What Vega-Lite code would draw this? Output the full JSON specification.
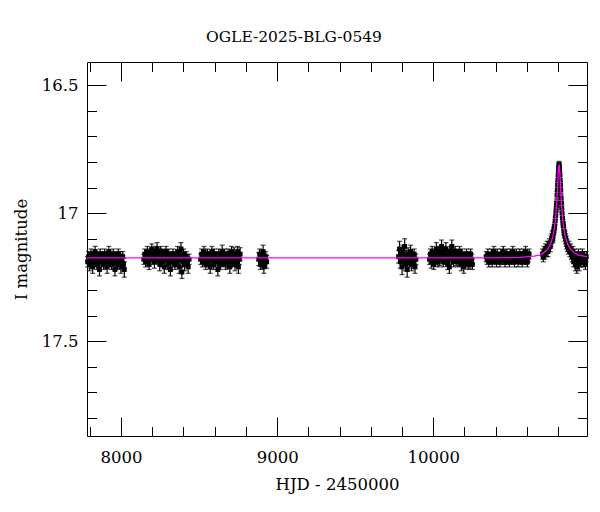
{
  "$schema": "https://vega.github.io/schema/vega-lite/v6.json",
  "width": 500,
  "height": 374,
  "autosize": {"type": "none"},
  "padding": {"left": 87, "top": 62, "right": 13, "bottom": 76},
  "background": "white",
  "config": {
    "view": {"stroke": "black", "strokeWidth": 1},
    "font": "DejaVu Serif",
    "axis": {
      "grid": false,
      "domain": false,
      "labelFont": "DejaVu Serif",
      "titleFont": "DejaVu Serif",
      "labelColor": "black",
      "titleColor": "black",
      "titleFontWeight": "normal",
      "labelFontSize": 16.5,
      "titleFontSize": 16.5,
      "tickColor": "black",
      "tickWidth": 1
    }
  },
  "title": {
    "text": "OGLE-2025-BLG-0549",
    "font": "DejaVu Serif",
    "fontSize": 15.5,
    "fontWeight": "normal",
    "color": "black",
    "anchor": "middle",
    "dx": -43,
    "offset": 4,
    "baseline": "alphabetic"
  },
  "datasets": {
    "obs": [
      {"t":7786,"m":17.19,"e":0.02},{"t":7792,"m":17.17,"e":0.02},{"t":7797,"m":17.20,"e":0.025},{"t":7803,"m":17.18,"e":0.02},
      {"t":7808,"m":17.16,"e":0.02},{"t":7812,"m":17.19,"e":0.02},{"t":7818,"m":17.21,"e":0.025},{"t":7823,"m":17.17,"e":0.02},
      {"t":7829,"m":17.18,"e":0.02},{"t":7834,"m":17.15,"e":0.02},{"t":7840,"m":17.19,"e":0.02},{"t":7845,"m":17.20,"e":0.02},
      {"t":7851,"m":17.17,"e":0.02},{"t":7856,"m":17.18,"e":0.025},{"t":7862,"m":17.22,"e":0.025},{"t":7867,"m":17.16,"e":0.02},
      {"t":7873,"m":17.19,"e":0.02},{"t":7878,"m":17.17,"e":0.02},{"t":7884,"m":17.18,"e":0.02},{"t":7889,"m":17.20,"e":0.02},
      {"t":7895,"m":17.16,"e":0.02},{"t":7900,"m":17.19,"e":0.025},{"t":7906,"m":17.17,"e":0.02},{"t":7911,"m":17.21,"e":0.025},
      {"t":7917,"m":17.18,"e":0.02},{"t":7922,"m":17.15,"e":0.02},{"t":7928,"m":17.19,"e":0.02},{"t":7933,"m":17.17,"e":0.02},
      {"t":7939,"m":17.20,"e":0.02},{"t":7944,"m":17.18,"e":0.02},{"t":7950,"m":17.16,"e":0.02},{"t":7955,"m":17.19,"e":0.025},
      {"t":7961,"m":17.22,"e":0.025},{"t":7966,"m":17.17,"e":0.02},{"t":7972,"m":17.18,"e":0.02},{"t":7977,"m":17.20,"e":0.02},
      {"t":7983,"m":17.16,"e":0.02},{"t":7988,"m":17.19,"e":0.02},{"t":7994,"m":17.17,"e":0.02},{"t":7999,"m":17.21,"e":0.025},
      {"t":8005,"m":17.18,"e":0.02},{"t":8011,"m":17.17,"e":0.02},{"t":8016,"m":17.20,"e":0.025},{"t":8021,"m":17.22,"e":0.03},
      {"t":8146,"m":17.18,"e":0.02},{"t":8152,"m":17.16,"e":0.02},{"t":8158,"m":17.19,"e":0.02},{"t":8163,"m":17.17,"e":0.02},
      {"t":8169,"m":17.15,"e":0.02},{"t":8175,"m":17.18,"e":0.025},{"t":8180,"m":17.20,"e":0.02},{"t":8186,"m":17.16,"e":0.02},
      {"t":8192,"m":17.17,"e":0.02},{"t":8197,"m":17.14,"e":0.02},{"t":8203,"m":17.18,"e":0.02},{"t":8209,"m":17.16,"e":0.02},
      {"t":8214,"m":17.19,"e":0.025},{"t":8220,"m":17.15,"e":0.02},{"t":8226,"m":17.17,"e":0.02},{"t":8231,"m":17.14,"e":0.025},
      {"t":8237,"m":17.18,"e":0.02},{"t":8243,"m":17.16,"e":0.02},{"t":8248,"m":17.20,"e":0.025},{"t":8254,"m":17.15,"e":0.02},
      {"t":8260,"m":17.17,"e":0.02},{"t":8265,"m":17.19,"e":0.02},{"t":8271,"m":17.16,"e":0.02},{"t":8277,"m":17.21,"e":0.025},
      {"t":8282,"m":17.17,"e":0.02},{"t":8288,"m":17.15,"e":0.02},{"t":8294,"m":17.18,"e":0.02},{"t":8299,"m":17.20,"e":0.02},
      {"t":8305,"m":17.16,"e":0.02},{"t":8311,"m":17.18,"e":0.02},{"t":8316,"m":17.22,"e":0.025},{"t":8322,"m":17.17,"e":0.02},
      {"t":8328,"m":17.19,"e":0.02},{"t":8333,"m":17.16,"e":0.02},{"t":8339,"m":17.18,"e":0.025},{"t":8345,"m":17.20,"e":0.02},
      {"t":8350,"m":17.17,"e":0.02},{"t":8356,"m":17.19,"e":0.02},{"t":8362,"m":17.15,"e":0.02},{"t":8367,"m":17.18,"e":0.02},
      {"t":8373,"m":17.21,"e":0.025},{"t":8379,"m":17.17,"e":0.02},{"t":8384,"m":17.14,"e":0.025},{"t":8390,"m":17.23,"e":0.025},
      {"t":8395,"m":17.19,"e":0.02},{"t":8401,"m":17.16,"e":0.02},{"t":8407,"m":17.20,"e":0.025},{"t":8412,"m":17.18,"e":0.02},
      {"t":8418,"m":17.17,"e":0.02},{"t":8424,"m":17.19,"e":0.02},{"t":8430,"m":17.21,"e":0.025},{"t":8436,"m":17.18,"e":0.02},
      {"t":8510,"m":17.18,"e":0.02},{"t":8516,"m":17.16,"e":0.02},{"t":8521,"m":17.19,"e":0.02},{"t":8527,"m":17.17,"e":0.025},
      {"t":8532,"m":17.15,"e":0.02},{"t":8538,"m":17.18,"e":0.02},{"t":8543,"m":17.20,"e":0.02},{"t":8549,"m":17.17,"e":0.02},
      {"t":8554,"m":17.16,"e":0.02},{"t":8560,"m":17.19,"e":0.02},{"t":8565,"m":17.18,"e":0.025},{"t":8571,"m":17.21,"e":0.025},
      {"t":8576,"m":17.17,"e":0.02},{"t":8582,"m":17.15,"e":0.02},{"t":8587,"m":17.18,"e":0.02},{"t":8593,"m":17.20,"e":0.02},
      {"t":8598,"m":17.16,"e":0.02},{"t":8604,"m":17.19,"e":0.02},{"t":8609,"m":17.17,"e":0.02},{"t":8615,"m":17.18,"e":0.025},
      {"t":8620,"m":17.22,"e":0.025},{"t":8626,"m":17.16,"e":0.02},{"t":8631,"m":17.18,"e":0.02},{"t":8637,"m":17.20,"e":0.02},
      {"t":8642,"m":17.17,"e":0.02},{"t":8648,"m":17.15,"e":0.025},{"t":8653,"m":17.19,"e":0.02},{"t":8659,"m":17.18,"e":0.02},
      {"t":8664,"m":17.16,"e":0.02},{"t":8670,"m":17.20,"e":0.02},{"t":8675,"m":17.17,"e":0.02},{"t":8681,"m":17.19,"e":0.025},
      {"t":8686,"m":17.16,"e":0.02},{"t":8692,"m":17.18,"e":0.02},{"t":8697,"m":17.21,"e":0.025},{"t":8703,"m":17.17,"e":0.02},
      {"t":8708,"m":17.15,"e":0.02},{"t":8714,"m":17.19,"e":0.02},{"t":8719,"m":17.18,"e":0.02},{"t":8725,"m":17.16,"e":0.025},
      {"t":8730,"m":17.20,"e":0.025},{"t":8736,"m":17.17,"e":0.02},{"t":8741,"m":17.19,"e":0.02},{"t":8747,"m":17.15,"e":0.02},
      {"t":8752,"m":17.21,"e":0.025},{"t":8758,"m":17.18,"e":0.02},{"t":8763,"m":17.16,"e":0.025},
      {"t":8882,"m":17.18,"e":0.025},{"t":8888,"m":17.16,"e":0.02},{"t":8893,"m":17.20,"e":0.02},{"t":8899,"m":17.17,"e":0.025},
      {"t":8904,"m":17.19,"e":0.02},{"t":8910,"m":17.15,"e":0.025},{"t":8915,"m":17.21,"e":0.025},{"t":8921,"m":17.18,"e":0.02},
      {"t":8927,"m":17.17,"e":0.02},{"t":8933,"m":17.19,"e":0.025},
      {"t":9778,"m":17.17,"e":0.025},{"t":9784,"m":17.14,"e":0.03},{"t":9789,"m":17.19,"e":0.025},{"t":9795,"m":17.16,"e":0.025},
      {"t":9800,"m":17.21,"e":0.03},{"t":9806,"m":17.15,"e":0.025},{"t":9811,"m":17.18,"e":0.025},{"t":9817,"m":17.13,"e":0.03},
      {"t":9822,"m":17.20,"e":0.025},{"t":9828,"m":17.17,"e":0.025},{"t":9833,"m":17.22,"e":0.03},{"t":9839,"m":17.16,"e":0.025},
      {"t":9844,"m":17.19,"e":0.025},{"t":9850,"m":17.18,"e":0.02},{"t":9855,"m":17.15,"e":0.025},{"t":9861,"m":17.20,"e":0.025},
      {"t":9866,"m":17.17,"e":0.02},{"t":9872,"m":17.19,"e":0.025},{"t":9878,"m":17.16,"e":0.02},{"t":9883,"m":17.21,"e":0.025},
      {"t":9889,"m":17.18,"e":0.02},
      {"t":9976,"m":17.18,"e":0.02},{"t":9982,"m":17.16,"e":0.02},{"t":9987,"m":17.19,"e":0.025},{"t":9993,"m":17.15,"e":0.02},
      {"t":9998,"m":17.17,"e":0.02},{"t":10004,"m":17.20,"e":0.02},{"t":10009,"m":17.16,"e":0.02},{"t":10015,"m":17.18,"e":0.02},
      {"t":10020,"m":17.14,"e":0.025},{"t":10026,"m":17.17,"e":0.02},{"t":10031,"m":17.19,"e":0.02},{"t":10037,"m":17.15,"e":0.02},
      {"t":10042,"m":17.18,"e":0.025},{"t":10048,"m":17.16,"e":0.02},{"t":10053,"m":17.13,"e":0.025},{"t":10059,"m":17.17,"e":0.02},
      {"t":10064,"m":17.19,"e":0.02},{"t":10070,"m":17.15,"e":0.02},{"t":10075,"m":17.18,"e":0.02},{"t":10081,"m":17.14,"e":0.025},
      {"t":10086,"m":17.16,"e":0.02},{"t":10092,"m":17.20,"e":0.02},{"t":10097,"m":17.17,"e":0.02},{"t":10103,"m":17.21,"e":0.025},
      {"t":10108,"m":17.15,"e":0.02},{"t":10114,"m":17.18,"e":0.02},{"t":10119,"m":17.13,"e":0.025},{"t":10125,"m":17.16,"e":0.02},
      {"t":10130,"m":17.19,"e":0.02},{"t":10136,"m":17.17,"e":0.02},{"t":10141,"m":17.15,"e":0.02},{"t":10147,"m":17.18,"e":0.025},
      {"t":10152,"m":17.16,"e":0.02},{"t":10158,"m":17.19,"e":0.02},{"t":10163,"m":17.17,"e":0.02},{"t":10169,"m":17.15,"e":0.02},
      {"t":10174,"m":17.18,"e":0.02},{"t":10180,"m":17.20,"e":0.025},{"t":10185,"m":17.16,"e":0.02},{"t":10191,"m":17.18,"e":0.02},
      {"t":10196,"m":17.21,"e":0.025},{"t":10202,"m":17.17,"e":0.02},{"t":10207,"m":17.19,"e":0.02},{"t":10213,"m":17.16,"e":0.02},
      {"t":10218,"m":17.18,"e":0.025},{"t":10224,"m":17.20,"e":0.02},{"t":10229,"m":17.17,"e":0.02},{"t":10235,"m":17.19,"e":0.025},
      {"t":10240,"m":17.16,"e":0.02},{"t":10246,"m":17.18,"e":0.02},{"t":10251,"m":17.20,"e":0.02},
      {"t":10339,"m":17.17,"e":0.02},{"t":10345,"m":17.18,"e":0.02},{"t":10350,"m":17.16,"e":0.02},{"t":10356,"m":17.19,"e":0.02},
      {"t":10361,"m":17.17,"e":0.015},{"t":10367,"m":17.18,"e":0.02},{"t":10372,"m":17.16,"e":0.02},{"t":10378,"m":17.19,"e":0.02},
      {"t":10383,"m":17.17,"e":0.02},{"t":10389,"m":17.15,"e":0.02},{"t":10394,"m":17.18,"e":0.02},{"t":10400,"m":17.17,"e":0.02},
      {"t":10405,"m":17.19,"e":0.02},{"t":10411,"m":17.16,"e":0.02},{"t":10416,"m":17.18,"e":0.02},{"t":10422,"m":17.17,"e":0.015},
      {"t":10427,"m":17.19,"e":0.02},{"t":10433,"m":17.16,"e":0.02},{"t":10438,"m":17.18,"e":0.02},{"t":10444,"m":17.17,"e":0.02},
      {"t":10449,"m":17.15,"e":0.02},{"t":10455,"m":17.18,"e":0.02},{"t":10460,"m":17.19,"e":0.02},{"t":10466,"m":17.17,"e":0.02},
      {"t":10471,"m":17.16,"e":0.02},{"t":10477,"m":17.18,"e":0.02},{"t":10482,"m":17.17,"e":0.02},{"t":10488,"m":17.19,"e":0.02},
      {"t":10493,"m":17.16,"e":0.02},{"t":10499,"m":17.18,"e":0.02},{"t":10504,"m":17.17,"e":0.02},{"t":10510,"m":17.15,"e":0.02},
      {"t":10515,"m":17.18,"e":0.02},{"t":10521,"m":17.19,"e":0.02},{"t":10526,"m":17.17,"e":0.02},{"t":10532,"m":17.16,"e":0.02},
      {"t":10537,"m":17.18,"e":0.015},{"t":10543,"m":17.19,"e":0.02},{"t":10548,"m":17.17,"e":0.02},{"t":10554,"m":17.16,"e":0.02},
      {"t":10559,"m":17.18,"e":0.02},{"t":10565,"m":17.17,"e":0.02},{"t":10570,"m":17.19,"e":0.02},{"t":10576,"m":17.16,"e":0.02},
      {"t":10581,"m":17.18,"e":0.02},{"t":10587,"m":17.17,"e":0.02},{"t":10592,"m":17.15,"e":0.02},{"t":10598,"m":17.18,"e":0.02},
      {"t":10603,"m":17.19,"e":0.02},{"t":10609,"m":17.17,"e":0.02},{"t":10614,"m":17.16,"e":0.02},
      {"t":10700,"m":17.16,"e":0.02},{"t":10705,"m":17.17,"e":0.02},{"t":10710,"m":17.15,"e":0.02},{"t":10715,"m":17.16,"e":0.02},
      {"t":10720,"m":17.14,"e":0.02},{"t":10725,"m":17.15,"e":0.02},{"t":10730,"m":17.13,"e":0.02},{"t":10735,"m":17.15,"e":0.02},
      {"t":10740,"m":17.13,"e":0.02},{"t":10745,"m":17.12,"e":0.02},{"t":10750,"m":17.13,"e":0.02},{"t":10755,"m":17.11,"e":0.02},
      {"t":10759,"m":17.10,"e":0.02},{"t":10763,"m":17.09,"e":0.02},{"t":10766,"m":17.10,"e":0.015},{"t":10769,"m":17.08,"e":0.015},
      {"t":10772,"m":17.07,"e":0.015},{"t":10775,"m":17.06,"e":0.015},{"t":10778,"m":17.05,"e":0.015},{"t":10781,"m":17.03,"e":0.015},
      {"t":10784,"m":17.01,"e":0.015},{"t":10787,"m":16.99,"e":0.015},{"t":10789,"m":16.97,"e":0.015},{"t":10791,"m":16.96,"e":0.015},
      {"t":10793,"m":16.93,"e":0.015},{"t":10795,"m":16.91,"e":0.015},{"t":10797,"m":16.89,"e":0.015},{"t":10799,"m":16.87,"e":0.015},
      {"t":10801,"m":16.85,"e":0.015},{"t":10803,"m":16.83,"e":0.015},{"t":10805,"m":16.82,"e":0.012},{"t":10806,"m":16.81,"e":0.012},
      {"t":10807,"m":16.82,"e":0.012},{"t":10809,"m":16.83,"e":0.015},{"t":10811,"m":16.85,"e":0.015},{"t":10813,"m":16.87,"e":0.015},
      {"t":10815,"m":16.89,"e":0.015},{"t":10817,"m":16.91,"e":0.015},{"t":10819,"m":16.94,"e":0.015},{"t":10821,"m":16.96,"e":0.015},
      {"t":10823,"m":16.98,"e":0.015},{"t":10825,"m":17.00,"e":0.015},{"t":10828,"m":17.02,"e":0.015},{"t":10831,"m":17.04,"e":0.015},
      {"t":10834,"m":17.05,"e":0.015},{"t":10837,"m":17.07,"e":0.015},{"t":10840,"m":17.08,"e":0.015},{"t":10844,"m":17.09,"e":0.02},
      {"t":10848,"m":17.10,"e":0.02},{"t":10852,"m":17.11,"e":0.02},{"t":10856,"m":17.12,"e":0.02},{"t":10860,"m":17.13,"e":0.02},
      {"t":10865,"m":17.14,"e":0.02},{"t":10870,"m":17.13,"e":0.02},{"t":10875,"m":17.15,"e":0.02},{"t":10880,"m":17.14,"e":0.02},
      {"t":10885,"m":17.16,"e":0.02},{"t":10890,"m":17.17,"e":0.02},{"t":10895,"m":17.15,"e":0.02},{"t":10900,"m":17.19,"e":0.02},
      {"t":10905,"m":17.16,"e":0.02},{"t":10910,"m":17.20,"e":0.025},{"t":10915,"m":17.17,"e":0.02},{"t":10920,"m":17.21,"e":0.025},
      {"t":10925,"m":17.18,"e":0.02},{"t":10930,"m":17.16,"e":0.02},{"t":10935,"m":17.20,"e":0.025},{"t":10940,"m":17.17,"e":0.02},
      {"t":10945,"m":17.19,"e":0.02},{"t":10950,"m":17.18,"e":0.02},{"t":10955,"m":17.16,"e":0.02},{"t":10960,"m":17.19,"e":0.02},
      {"t":10965,"m":17.17,"e":0.02},{"t":10970,"m":17.18,"e":0.02},{"t":10975,"m":17.20,"e":0.02},{"t":10980,"m":17.17,"e":0.02}
    ],
    "model": [
      {"t":7782,"m":17.175},{"t":10300,"m":17.175},{"t":10556,"m":17.173},{"t":10646,"m":17.168},
      {"t":10686,"m":17.163},{"t":10716,"m":17.151},{"t":10736,"m":17.138},{"t":10751,"m":17.121},
      {"t":10766,"m":17.092},{"t":10776,"m":17.059},{"t":10781,"m":17.035},{"t":10786,"m":17.002},
      {"t":10791,"m":16.959},{"t":10796,"m":16.903},{"t":10801,"m":16.841},{"t":10803.5,"m":16.819},
      {"t":10806,"m":16.81},{"t":10808.5,"m":16.819},{"t":10811,"m":16.841},{"t":10816,"m":16.903},
      {"t":10821,"m":16.959},{"t":10826,"m":17.002},{"t":10831,"m":17.035},{"t":10836,"m":17.059},
      {"t":10846,"m":17.092},{"t":10861,"m":17.121},{"t":10876,"m":17.138},{"t":10896,"m":17.151},
      {"t":10926,"m":17.163},{"t":10966,"m":17.168},{"t":10985,"m":17.17}
    ]
  },
  "layer": [
    {
      "encoding": {
        "x": {
          "field": "t", "type": "quantitative",
          "scale": {"domain": [7782, 10985], "nice": false, "zero": false},
          "axis": {"orient": "bottom", "values": [8000, 9000, 10000], "format": "d", "ticks": false, "tickSize": 0, "labelPadding": 13.5, "title": "HJD - 2450000", "titlePadding": 10.5}
        },
        "y": {
          "field": "m", "type": "quantitative",
          "scale": {"domain": [16.41, 17.87], "reverse": true, "nice": false, "zero": false},
          "axis": {"orient": "left", "values": [16.5, 17, 17.5], "format": ".1~f", "ticks": false, "tickSize": 0, "labelPadding": 9, "title": "I magnitude", "titlePadding": 12}
        }
      },
      "layer": [
        {
          "data": {"name": "obs"},
          "mark": {"type": "errorbar", "ticks": {"size": 5, "color": "black"}, "color": "black", "thickness": 1.2},
          "encoding": {"yError": {"field": "e"}}
        },
        {
          "data": {"name": "obs"},
          "mark": {"type": "square", "size": 24, "color": "black", "filled": true, "opacity": 1}
        },
        {
          "data": {"name": "model"},
          "mark": {"type": "line", "color": "#ff00ff", "strokeWidth": 1.3}
        }
      ]
    },
    {
      "data": {"name": "model"},
      "mark": {"type": "point", "opacity": 0},
      "encoding": {
        "x": {
          "field": "t", "type": "quantitative",
          "scale": {"domain": [7782, 10985], "nice": false, "zero": false},
          "axis": {"orient": "top", "offset": -374, "labels": false, "domain": false, "title": null, "ticks": true,
            "values": [7800, 8000, 8200, 8400, 8600, 8800, 9000, 9200, 9400, 9600, 9800, 10000, 10200, 10400, 10600, 10800],
            "tickSize": {"condition": {"test": "datum.value % 1000 === 0", "value": 19}, "value": 9.5}}
        },
        "y": {
          "field": "m", "type": "quantitative",
          "scale": {"domain": [16.41, 17.87], "reverse": true, "nice": false, "zero": false},
          "axis": {"orient": "right", "offset": -500, "labels": false, "domain": false, "title": null, "ticks": true,
            "values": [16.5, 16.6, 16.7, 16.8, 16.9, 17, 17.1, 17.2, 17.3, 17.4, 17.5, 17.6, 17.7, 17.8],
            "tickSize": {"condition": {"test": "abs(datum.value * 2 - round(datum.value * 2)) < 0.001", "value": 19}, "value": 9.5}}
        }
      }
    },
    {
      "data": {"name": "model"},
      "mark": {"type": "point", "opacity": 0},
      "encoding": {
        "x": {
          "field": "t", "type": "quantitative",
          "scale": {"domain": [7782, 10985], "nice": false, "zero": false},
          "axis": {"orient": "bottom", "offset": -374, "labels": false, "domain": false, "title": null, "ticks": true,
            "values": [7800, 8000, 8200, 8400, 8600, 8800, 9000, 9200, 9400, 9600, 9800, 10000, 10200, 10400, 10600, 10800],
            "tickSize": {"condition": {"test": "datum.value % 1000 === 0", "value": 19}, "value": 9.5}}
        },
        "y": {
          "field": "m", "type": "quantitative",
          "scale": {"domain": [16.41, 17.87], "reverse": true, "nice": false, "zero": false},
          "axis": {"orient": "left", "offset": -500, "labels": false, "domain": false, "title": null, "ticks": true,
            "values": [16.5, 16.6, 16.7, 16.8, 16.9, 17, 17.1, 17.2, 17.3, 17.4, 17.5, 17.6, 17.7, 17.8],
            "tickSize": {"condition": {"test": "abs(datum.value * 2 - round(datum.value * 2)) < 0.001", "value": 19}, "value": 9.5}}
        }
      }
    }
  ],
  "resolve": {"axis": {"x": "independent", "y": "independent"}}
}
